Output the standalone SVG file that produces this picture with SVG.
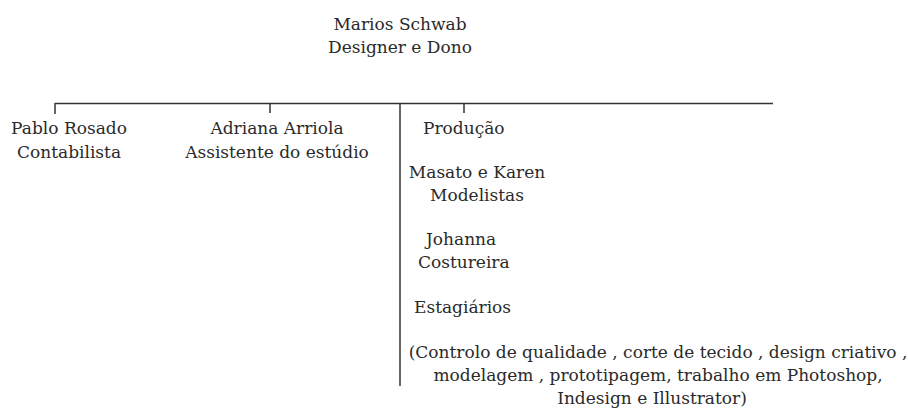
<svg xmlns="http://www.w3.org/2000/svg" width="908" height="417" viewBox="0 0 908 417">
<style>
text{font-family:"DejaVu Serif","Liberation Serif",serif;font-size:17px;fill:#2a2a2a;text-anchor:middle}
.l{text-anchor:start}
.c{stroke:#333;stroke-width:1.5;fill:none}
</style>
<rect width="908" height="417" fill="#fff"/>
<g id="connectors">
<line class="c" x1="55" y1="103.5" x2="773" y2="103.5"/>
<line class="c" x1="55" y1="103" x2="55" y2="114"/>
<line class="c" x1="270" y1="103" x2="270" y2="113"/>
<line class="c" x1="464" y1="103" x2="464" y2="113"/>
<line class="c" x1="400" y1="103" x2="400" y2="386"/>
</g>
<g id="marios"><text x="400" y="30">Marios Schwab</text><text x="400" y="53">Designer e Dono</text></g>
<g id="pablo"><text x="69" y="134">Pablo Rosado</text><text x="69" y="158">Contabilista</text></g>
<g id="adriana"><text x="277" y="134">Adriana Arriola</text><text x="277" y="158">Assistente do estúdio</text></g>
<g id="producao"><text class="l" x="423" y="134">Produção</text></g>
<g id="masato"><text x="477" y="178">Masato e Karen</text><text x="477" y="201">Modelistas</text></g>
<g id="johanna"><text class="l" x="426" y="245">Johanna</text><text class="l" x="418" y="268">Costureira</text></g>
<g id="estagiarios"><text class="l" x="414" y="313">Estagiários</text>
<text x="658" y="358">(Controlo de qualidade , corte de tecido , design criativo ,</text>
<text x="658" y="381">modelagem , prototipagem, trabalho em Photoshop,</text>
<text x="652" y="404">Indesign e Illustrator)</text></g>
</svg>
